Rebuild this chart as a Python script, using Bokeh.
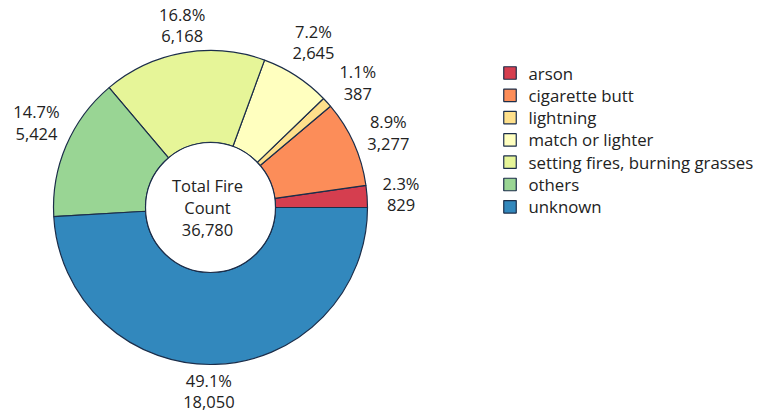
import math
from bokeh.plotting import figure
from bokeh.models import ColumnDataSource, Range1d
from bokeh.core.properties import value
from bokeh.embed import file_html
from bokeh.resources import INLINE

categories = ["arson", "cigarette butt", "lightning", "match or lighter",
              "setting fires, burning grasses", "others", "unknown"]
counts = [829, 3277, 387, 2645, 6168, 5424, 18050]
colors = ["#d53e4f", "#fc8d59", "#fee08b", "#ffffbf", "#e6f598", "#99d594", "#3288bd"]

W, H = 758, 413
FONT = "Open Sans"
EDGE = "#1c2e4a"
TXT = "#222222"

# manual label nudges (pixels, x right / y up), as in the hand-placed original labels
label_nudge = [(6, 0), (9, -1), (10, 1), (2, 10), (4, 0), (-4, 12), (-7, 1)]

total = sum(counts)
cx, cy = 210, H - 207
r_out, r_in, r_lab = 157, 65, 185

starts, ends, pcts, nums, lx, ly = [], [], [], [], [], []
acc = 0.0
for c, (ndx, ndy) in zip(counts, label_nudge):
    a0 = 2 * math.pi * acc / total
    acc += c
    a1 = 2 * math.pi * acc / total
    starts.append(a0)
    ends.append(a1)
    mid = (a0 + a1) / 2
    lx.append(cx + r_lab * math.cos(mid) + ndx)
    ly.append(cy + r_lab * math.sin(mid) + ndy)
    pcts.append(f"{100 * c / total:.1f}%")
    nums.append(f"{c:,}")

src = ColumnDataSource(dict(start=starts, end=ends, color=colors, cat=categories,
                            pct=pcts, num=nums, lx=lx,
                            ly_top=[y + 11 for y in ly], ly_bot=[y - 11 for y in ly]))

p = figure(width=W, height=H, x_range=Range1d(0, W), y_range=Range1d(0, H),
           output_backend="svg", toolbar_location=None, min_border=0)
p.axis.visible = False
p.grid.visible = False
p.outline_line_color = None
p.background_fill_color = "white"
p.border_fill_color = "white"

p.annular_wedge(x=cx, y=cy, inner_radius=r_in, outer_radius=r_out,
                start_angle="start", end_angle="end", fill_color="color",
                line_color=EDGE, line_width=1.2, source=src)
p.circle(x=cx, y=cy, radius=r_in, fill_color="white", line_color=EDGE, line_width=1.2)

p.text(x="lx", y="ly_top", text="pct", source=src, text_align="center",
       text_baseline="middle", text_font=value(FONT), text_font_size="16.5px",
       text_color=TXT)
p.text(x="lx", y="ly_bot", text="num", source=src, text_align="center",
       text_baseline="middle", text_font=value(FONT), text_font_size="16.5px",
       text_color=TXT)

center_lines = ["Total Fire", "Count", f"{total:,}"]
p.text(x=[cx - 3] * 3, y=[cy + 22, cy, cy - 22], text=center_lines,
       text_align="center", text_baseline="middle", text_font=value(FONT),
       text_font_size="16.5px", text_color=TXT)

# legend
leg_y = [H - (72.5 + 22.3 * i) for i in range(len(categories))]
p.rect(x=[509.5] * len(categories), y=leg_y, width=12.5, height=12.5,
       fill_color=colors, line_color=EDGE, line_width=1.2)
p.text(x=[528] * len(categories), y=leg_y, text=categories, text_align="left",
       text_baseline="middle", text_font=value(FONT), text_font_size="16.8px",
       text_color=TXT)

open("out.html", "w").write(file_html(p, INLINE))
